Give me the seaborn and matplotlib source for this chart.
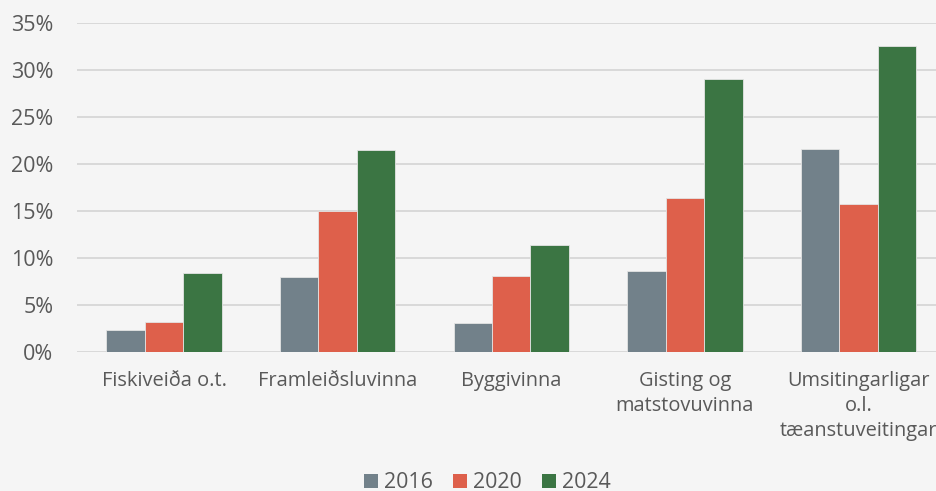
import matplotlib
matplotlib.use("Agg")
import matplotlib.pyplot as plt
from matplotlib import font_manager
from matplotlib.ticker import PercentFormatter
from matplotlib.patches import Patch
import seaborn as sns
import pandas as pd

# --- data -------------------------------------------------------------
categories = [
    "Fiskiveiða o.t.",
    "Framleiðsluvinna",
    "Byggivinna",
    "Gisting og\nmatstovuvinna",
    "Umsitingarligar\no.l.\ntæanstuveitingar",
]
years = ["2016", "2020", "2024"]
share_2016 = [2.3, 7.95, 3.05, 8.6, 21.6]
share_2020 = [3.2, 15.0, 8.1, 16.4, 15.7]
share_2024 = [8.4, 21.5, 11.3, 29.05, 32.5]
yticks = [0, 5, 10, 15, 20, 25, 30, 35]

colors = ["#72818A", "#DE604B", "#3B7543"]
bg = "#F5F5F5"
text_col = "#595959"
grid_col = "#D9D9D9"

df = pd.DataFrame({
    "Bólkur": categories * 3,
    "Ár": [y for y in years for _ in categories],
    "Partur": share_2016 + share_2020 + share_2024,
})

sns.set_theme(style="white")

available = {f.name for f in font_manager.fontManager.ttflist}
def pick(*names):
    for n in names:
        if n in available:
            return n
    return "DejaVu Sans"

main_font = pick("Open Sans", "Roboto", "Liberation Sans")
plt.rcParams["font.family"] = [main_font, "DejaVu Sans"]

fig = plt.figure(figsize=(9.37, 4.91), dpi=100, facecolor=bg)
ax = fig.add_axes([77.2 / 937, 1 - 351.7 / 491, (945.3 - 77.2) / 937, (351.7 - 22.7) / 491])
ax.set_facecolor(bg)

sns.barplot(
    data=df, x="Bólkur", y="Partur", hue="Ár",
    palette=colors, saturation=1, width=0.665, ax=ax, legend=False,
    edgecolor="#E4E4E4", linewidth=0.6, zorder=3,
)

ax.set_xlim(-0.5, 4.5)
ax.set_ylim(0, 35)
ax.set_yticks(yticks)
ax.yaxis.set_major_formatter(PercentFormatter(decimals=0))
ax.grid(axis="y", color=grid_col, linewidth=1.4, zorder=0)
ax.grid(axis="x", visible=False)
ax.set_axisbelow(True)
for s in ax.spines.values():
    s.set_visible(False)
ax.set_xlabel("")
ax.set_ylabel("")
ax.tick_params(axis="both", length=0)
ax.tick_params(axis="y", pad=17, labelsize=15.5, labelcolor=text_col)
ax.tick_params(axis="x", pad=14, labelsize=14.4, labelcolor=text_col)
for lab in ax.get_xticklabels():
    lab.set_linespacing(1.33)

handles = [Patch(facecolor=c, edgecolor="none") for c in colors]
fig.legend(
    handles, years, loc="center", bbox_to_anchor=(487.5 / 937, 1 - 483 / 491),
    ncol=3, frameon=False, fontsize=15.4, labelcolor=text_col,
    handlelength=0.65, handleheight=0.65, handletextpad=0.3, columnspacing=0.93,
    borderpad=0, borderaxespad=0,
)

fig.savefig("out.png", dpi=100, facecolor=bg)
